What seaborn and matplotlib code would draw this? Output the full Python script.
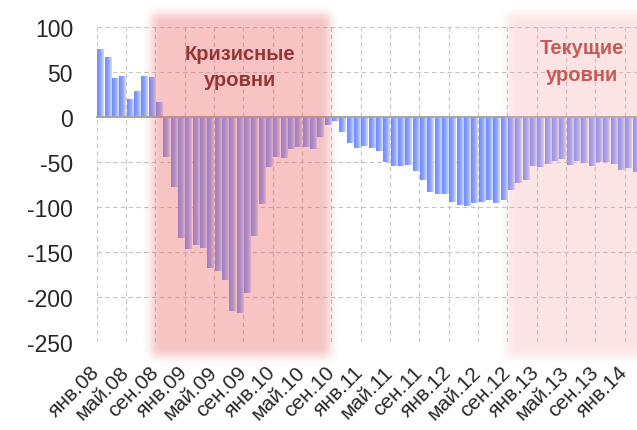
import numpy as np
import pandas as pd
import matplotlib
matplotlib.use('Agg')
import matplotlib.pyplot as plt
import seaborn as sns

# monthly values, Jan 2008 .. Feb 2014
values = [75, 66, 43, 45, 20, 29, 45, 44, 17,
          -45, -78, -134, -147, -142, -145, -168, -171, -181, -215, -217, -195,
          -132, -97, -56, -44, -46, -36, -33, -33, -36, -22, -9, -5, -17, -29,
          -34, -32, -34, -38, -50, -55, -54, -53, -60, -70, -83, -85, -85, -94,
          -98, -99, -95, -94, -92, -96, -92, -81, -73, -70, -54, -56, -52, -49,
          -47, -53, -49, -51, -55, -50, -50, -52, -59, -57, -61]
months = pd.date_range('2008-01-01', periods=len(values), freq='MS').strftime('%Y-%m')
tick_labels = ['янв.08', 'май.08', 'сен.08', 'янв.09', 'май.09', 'сен.09',
               'янв.10', 'май.10', 'сен.10', 'янв.11', 'май.11', 'сен.11',
               'янв.12', 'май.12', 'сен.12', 'янв.13', 'май.13', 'сен.13', 'янв.14']
y_ticks = [100, 50, 0, -50, -100, -150, -200, -250]

# shaded zones (bar index units / value units)
crisis_span = (7.0, 31.3)
current_span = (55.4, 78.0)
zone_y = (-265, 114)

df = pd.DataFrame({'month': months, 'value': values})

sns.set_style('white')
plt.rcParams['font.family'] = ['Liberation Sans', 'DejaVu Sans']

W, H = 637, 431
fig = plt.figure(figsize=(W / 100, H / 100), dpi=100)
ax = fig.add_axes([96.7 / W, (H - 343.3) / H, 1 - 96.7 / W, (343.3 - 27.7) / H])

sns.barplot(data=df, x='month', y='value', color='#8aa6ff', width=0.84,
            ax=ax, zorder=2)

# horizontal gradient inside every bar
stops = np.array([[110, 140, 255], [140, 162, 255], [212, 222, 255]]) / 255
pos = np.linspace(0, 1, 40)
grad = np.stack([np.interp(pos, [0, 0.5, 1], stops[:, c]) for c in range(3)], axis=-1)[None]
for p in list(ax.patches):
    x0, w = p.get_x(), p.get_width()
    y0, h = p.get_y(), p.get_height()
    im = ax.imshow(grad, extent=(x0, x0 + w, min(y0, y0 + h), max(y0, y0 + h)),
                   aspect='auto', zorder=2, interpolation='bilinear')
    im.set_clip_path(p)
    p.set_facecolor('none')
    p.set_edgecolor('none')

xmax = -0.5 + (W - 96.7) / 7.333
ax.set_xlim(-0.5, xmax)
ax.set_ylim(-250, 100)

grid_pos = [4 * k - 0.5 for k in range(len(tick_labels))]
ax.set_xticks(grid_pos)
ax.set_xticklabels([])
ax.set_yticks(y_ticks)
ax.set_yticklabels([str(v) for v in y_ticks], fontsize=16.5)
ax.tick_params(axis='y', length=0, pad=17)
ax.tick_params(axis='x', direction='out', length=5, width=1.2, color='#9a9a9a')
ax.grid(True, linestyle=(0, (4, 3)), color='#c4c4c4', lw=0.8)
ax.set_axisbelow(True)
for s in ['left', 'right', 'top']:
    ax.spines[s].set_visible(False)
ax.spines['bottom'].set_position(('data', 0))
ax.spines['bottom'].set_color('#a6a6a6')
ax.spines['bottom'].set_linewidth(1.4)
ax.spines['bottom'].set_zorder(3)
ax.set_xlabel('')
ax.set_ylabel('')

sec = ax.secondary_xaxis('bottom')
sec.set_xticks(grid_pos)
sec.set_xticklabels(tick_labels, fontsize=15)
sec.tick_params(length=0, pad=19)
sec.spines['bottom'].set_visible(False)
plt.setp(sec.get_xticklabels(), rotation=45, ha='right', va='center',
         rotation_mode='anchor')


# soft-edged translucent zones on top of the bars
def soft_mask(span, r=4, n=3, padw=60):
    (xa, ya) = ax.transData.transform((span[0], zone_y[1]))
    (xb, yb) = ax.transData.transform((span[1], zone_y[0]))
    m = np.zeros((H + 2 * padw, W + 2 * padw))
    r0, r1 = int(round(H - ya)) + padw, int(round(H - yb)) + padw
    c0, c1 = int(round(xa)) + padw, int(round(xb)) + padw
    m[max(r0, 0):min(r1, m.shape[0]), max(c0, 0):min(c1, m.shape[1])] = 1
    k = np.ones(2 * r + 1) / (2 * r + 1)
    for _ in range(n):
        m = np.apply_along_axis(lambda v: np.convolve(v, k, mode='same'), 0, m)
        m = np.apply_along_axis(lambda v: np.convolve(v, k, mode='same'), 1, m)
    return m[padw:padw + H, padw:padw + W]


over = fig.add_axes([0, 0, 1, 1], zorder=5)
over.set_xlim(0, W)
over.set_ylim(H, 0)
over.axis('off')
for span, col, a in [(crisis_span, (235, 105, 105), 0.40),
                     (current_span, (250, 165, 165), 0.30)]:
    m = soft_mask(span)
    img = np.zeros((H, W, 4))
    img[..., :3] = np.array(col) / 255
    img[..., 3] = a * m
    over.imshow(img, extent=(0, W, H, 0), aspect='auto', interpolation='bilinear')
over.set_xlim(0, W)
over.set_ylim(H, 0)

over.text(19.0, 56, 'Кризисные\nуровни', transform=ax.transData, ha='center',
          va='center', fontsize=14.5, fontweight='bold', color='#943634',
          family=['Liberation Sans', 'DejaVu Sans'], linespacing=1.5)
over.text(65.7, 62, 'Текущие\nуровни', transform=ax.transData, ha='center',
          va='center', fontsize=14.5, fontweight='bold', color='#c55a57',
          family=['Liberation Sans', 'DejaVu Sans'], linespacing=1.5)

fig.savefig('out.png', dpi=100)
